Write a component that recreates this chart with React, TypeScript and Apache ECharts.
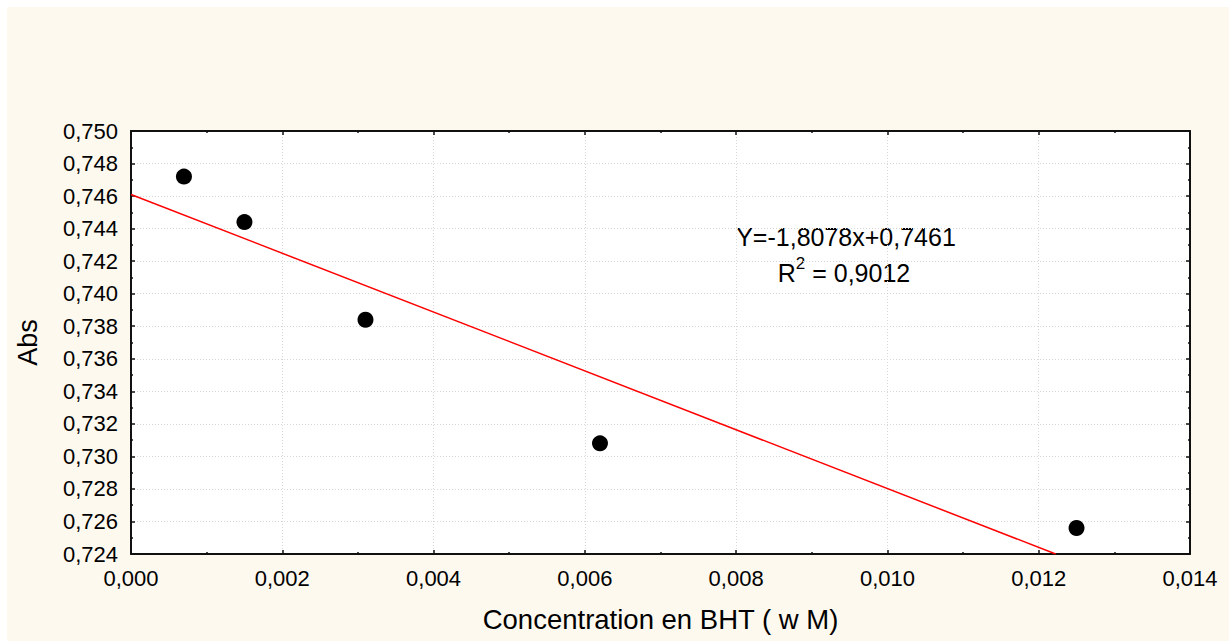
import React, { useEffect, useRef } from "react";
import * as echarts from "echarts";

// Measured points: concentration (x) vs absorbance (y)
const concentrations = [0.0007, 0.0015, 0.0031, 0.0062, 0.0125];
const absorbances = [0.7472, 0.7444, 0.7384, 0.7308, 0.7256];

// Linear fit reported on the chart
const slope = -1.8078;
const intercept = 0.7461;
const rSquared = "0,9012";

const xMin = 0;
const xMax = 0.014;
const xStep = 0.002;
const yMin = 0.724;
const yMax = 0.75;
const yStep = 0.002;

const FONT = "'Liberation Sans', Arial, Helvetica, sans-serif";

const comma = (v: number) => v.toFixed(3).replace(".", ",");

export default function App() {
  const ref = useRef<HTMLDivElement>(null);

  useEffect(() => {
    if (!ref.current) return;
    const chart = echarts.init(ref.current, undefined, { renderer: "svg" });

    // Fit line runs from x = 0 until it leaves the bottom of the plot
    const xEnd = Math.min(xMax, (yMin - intercept) / slope);
    const fitLine = [
      [0, intercept],
      [xEnd, slope * xEnd + intercept],
    ];

    const points = concentrations.map((x, i) => [x, absorbances[i]]);

    const frameLine = { show: true, onZero: false, lineStyle: { color: "#111", width: 2 } };
    const ticks = { show: true, inside: true, length: 4, lineStyle: { color: "#111", width: 1.5 } };
    const minor = { show: true, splitNumber: 2, length: 2, lineStyle: { color: "#111", width: 1.5 } };
    const grid = { show: true, lineStyle: { color: "#d8d8d8", type: [1, 2], width: 1 } };

    chart.setOption({
      animation: false,
      backgroundColor: "transparent",
      grid: { left: 131, top: 131, right: 39, bottom: 87, show: true, backgroundColor: "#ffffff", borderWidth: 0 },
      xAxis: [
        {
          type: "value",
          min: xMin,
          max: xMax,
          interval: xStep,
          position: "bottom",
          axisLine: frameLine,
          axisTick: ticks,
          minorTick: minor,
          axisLabel: { formatter: comma, color: "#000", fontSize: 22, fontFamily: FONT, margin: 13 },
          splitLine: grid,
          name: "Concentration en BHT ( w M)",
          nameLocation: "middle",
          nameGap: 51,
          nameTextStyle: { color: "#000", fontSize: 27.5, fontFamily: FONT },
        },
        {
          type: "value",
          min: xMin,
          max: xMax,
          interval: xStep,
          position: "top",
          axisLine: frameLine,
          axisTick: ticks,
          minorTick: minor,
          axisLabel: { show: false },
          splitLine: { show: false },
        },
      ],
      yAxis: [
        {
          type: "value",
          min: yMin,
          max: yMax,
          interval: yStep,
          position: "left",
          axisLine: frameLine,
          axisTick: ticks,
          minorTick: minor,
          axisLabel: { formatter: comma, color: "#000", fontSize: 22, fontFamily: FONT, margin: 13 },
          splitLine: grid,
          name: "Abs",
          nameLocation: "middle",
          nameRotate: 90,
          nameGap: 90,
          nameTextStyle: { color: "#000", fontSize: 27, fontFamily: FONT },
        },
        {
          type: "value",
          min: yMin,
          max: yMax,
          interval: yStep,
          position: "right",
          axisLine: frameLine,
          axisTick: ticks,
          minorTick: minor,
          axisLabel: { show: false },
          splitLine: { show: false },
        },
      ],
      series: [
        {
          type: "line",
          data: fitLine,
          symbol: "none",
          lineStyle: { color: "#ff0000", width: 1.5 },
          silent: true,
          z: 2,
        },
        {
          type: "scatter",
          data: points,
          symbol: "circle",
          symbolSize: 16,
          itemStyle: { color: "#000", opacity: 1 },
          z: 3,
        },
      ],
      graphic: [
        {
          type: "text",
          x: 846,
          y: 237,
          style: {
            text: "Y=-1,8078x+0,7461",
            fill: "#000",
            fontSize: 25,
            fontFamily: FONT,
            align: "center",
            verticalAlign: "middle",
          },
        },
        {
          type: "text",
          x: 844,
          y: 270,
          style: {
            text: "{b|R}{s|2}{b| = " + rSquared + "}",
            fill: "#000",
            fontFamily: FONT,
            align: "center",
            verticalAlign: "middle",
            rich: {
              b: { fontSize: 25, fontFamily: FONT, fill: "#000", verticalAlign: "bottom" },
              s: { fontSize: 17, fontFamily: FONT, fill: "#000", verticalAlign: "top", padding: [0, 0, 14, 0] },
            },
          },
        },
      ],
    });

    return () => chart.dispose();
  }, []);

  return (
    <div style={{ position: "fixed", left: 0, top: 0, width: 1229, height: 641, background: "#ffffff" }}>
      <div
        style={{ position: "absolute", left: 7, top: 7, width: 1222, height: 634, background: "#fdf9ef" }}
      />
      <div ref={ref} style={{ position: "absolute", left: 0, top: 0, width: 1229, height: 641 }} />
    </div>
  );
}
